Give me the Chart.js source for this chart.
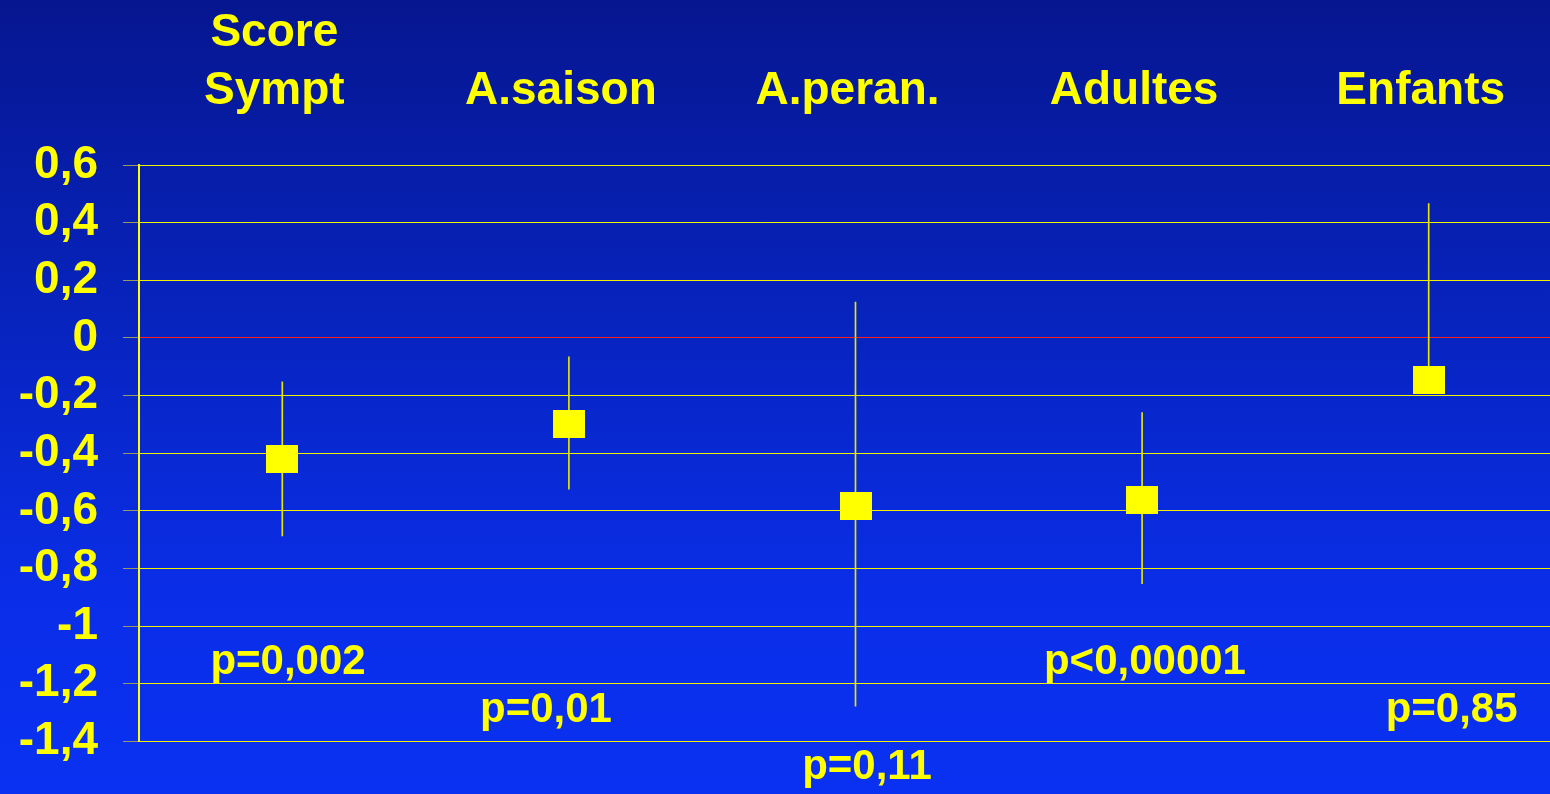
<!DOCTYPE html>
<html>
<head>
<meta charset="utf-8">
<title>Score Sympt</title>
<script src="https://cdn.jsdelivr.net/npm/chart.js@4.4.1/dist/chart.umd.min.js"></script>
<style>
  html, body {
    margin: 0;
    padding: 0;
    overflow: hidden;
    width: 1550px;
    height: 794px;
    background: linear-gradient(to bottom, #061690 0%, #0722b8 35%, #0a2ee8 75%, #0a31f2 100%);
  }
  #graf { display: block; }
</style>
</head>
<body>
<canvas id="graf" width="1572" height="794"></canvas>
<script>
  // groupes, effet moyen et intervalle de confiance
  const categories = [['Score', 'Sympt'], 'A.saison', 'A.peran.', 'Adultes', 'Enfants'];
  const effet = [-0.42, -0.30, -0.584, -0.561, -0.145];
  const icBas = [-0.687, -0.525, -1.278, -0.853, -0.17];
  const icHaut = [-0.152, -0.066, 0.124, -0.259, 0.466];
  const yTicks = [0.6, 0.4, 0.2, 0, -0.2, -0.4, -0.6, -0.8, -1, -1.2, -1.4];

  // p-values et leur ancrage (unités des axes)
  const pTextes = ['p=0,002', 'p=0,01', 'p=0,11', 'p<0,00001', 'p=0,85'];
  const pAncreX = [0.02, 0.92, 2.04, 3.01, 4.08];
  const pAncreY = [-1.126, -1.292, -1.489, -1.126, -1.292];

  const JAUNE = '#ffff00';
  const POLICE = "'Liberation Sans', Arial, sans-serif";

  function formatTick(v) {
    const r = Math.round(v * 10) / 10;
    if (r === 0) return '0';
    if (Number.isInteger(r)) return String(r);
    return r.toFixed(1).replace('.', ',');
  }

  // carré jaune un peu plus large que haut
  const carre = document.createElement('canvas');
  carre.width = 32;
  carre.height = 28;
  const cc = carre.getContext('2d');
  cc.fillStyle = JAUNE;
  cc.fillRect(0, 0, 32, 28);

  const pValeurs = {
    id: 'pValeurs',
    afterDatasetsDraw(chart) {
      const { ctx, scales: { x, y } } = chart;
      ctx.save();
      ctx.fillStyle = JAUNE;
      ctx.font = 'bold 42px ' + POLICE;
      ctx.textAlign = 'center';
      ctx.textBaseline = 'middle';
      pTextes.forEach((t, i) => {
        ctx.fillText(t, x.getPixelForValue(pAncreX[i]), y.getPixelForValue(pAncreY[i]));
      });
      ctx.restore();
    }
  };

  const ctx = document.getElementById('graf').getContext('2d');
  const graf = new Chart(ctx, {
    data: {
      labels: categories,
      datasets: [
        {
          type: 'line',
          label: 'Effet',
          data: effet,
          showLine: false,
          pointStyle: carre,
          pointRadius: 16,
          order: 0
        },
        {
          type: 'bar',
          label: 'IC',
          data: icBas.map((b, i) => [b, icHaut[i]]),
          backgroundColor: '#e6e600',
          borderWidth: 0,
          barThickness: 1,
          order: 1
        }
      ]
    },
    options: {
      responsive: false,
      animation: false,
      layout: { autoPadding: false, padding: { top: 0, left: 0, right: 0, bottom: 50 } },
      plugins: {
        legend: { display: false },
        tooltip: { enabled: false }
      },
      scales: {
        x: {
          type: 'category',
          position: 'top',
          grid: { display: false, drawTicks: false },
          border: { display: false },
          ticks: {
            color: JAUNE,
            font: { family: POLICE, size: 46, weight: 'bold', lineHeight: 1.26 },
            padding: 45,
            maxRotation: 0,
            autoSkip: false,
            labelOffset: -8
          },
          afterFit: s => { s.height = 165; }
        },
        y: {
          min: -1.4,
          max: 0.6,
          afterBuildTicks: s => { s.ticks = yTicks.map(v => ({ value: v })); },
          ticks: {
            color: JAUNE,
            font: { family: POLICE, size: 46, weight: 'bold' },
            padding: 25,
            autoSkip: false,
            callback: v => formatTick(v)
          },
          grid: {
            // ligne du zéro en rouge
            color: c => (yTicks[c.index] === 0 ? '#ff1e1e' : '#f0f000'),
            lineWidth: 1,
            tickLength: 16,
            tickColor: '#9a9a60'
          },
          border: { color: JAUNE, width: 2 },
          afterFit: s => { s.width = 139; }
        }
      }
    },
    plugins: [pValeurs]
  });
</script>
</body>
</html>
